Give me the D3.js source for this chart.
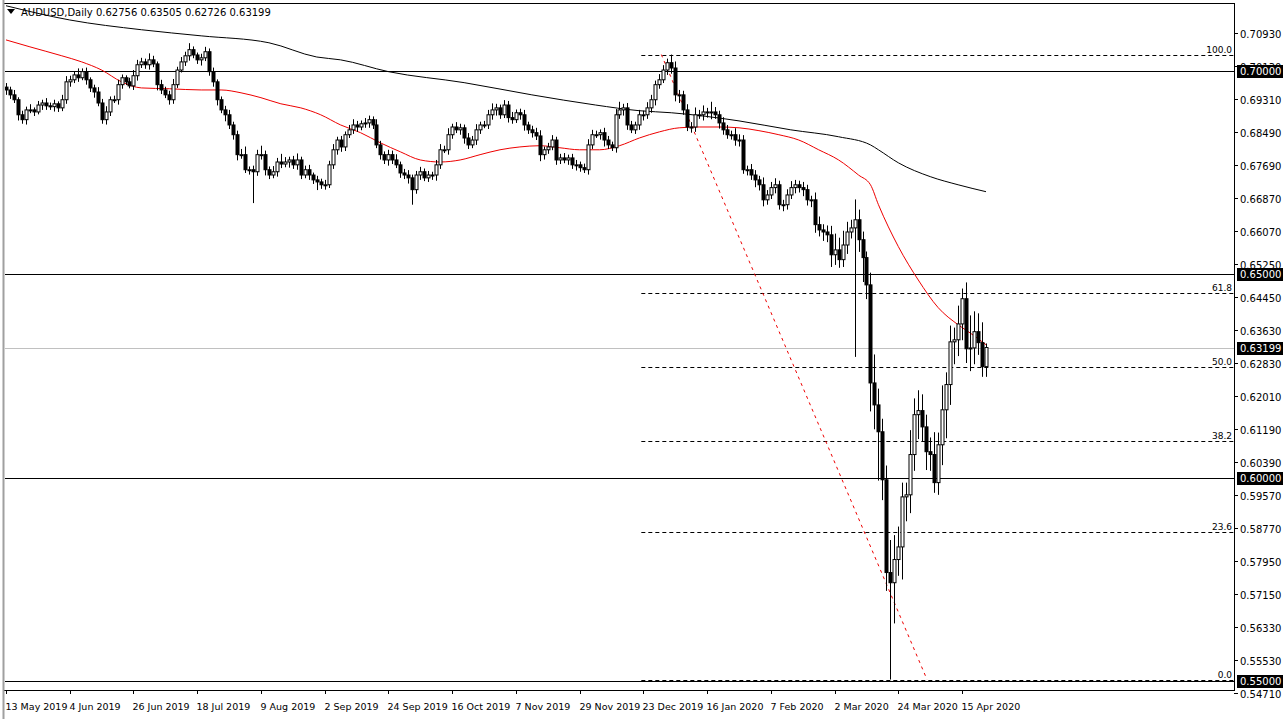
<!DOCTYPE html>
<html><head><meta charset="utf-8">
<script src="https://cdn.jsdelivr.net/npm/d3@7"></script>
<style>body{margin:0;background:#fff}svg{display:block}text{font-family:"DejaVu Sans",Arial,sans-serif;font-size:10px}</style>
</head><body><svg id="c" width="1286" height="719"></svg>
<script>
const firstOpen = 0.6960;
const closes = [
0.6953,0.6941,0.6929,0.6892,0.6880,0.6904,0.6904,0.6899,0.6916,0.6921,0.6914,0.6912,0.6919,0.6909,0.6929,0.6973,0.6978,0.6990,0.6983,0.6998,0.6978,0.6958,0.6948,0.6921,0.6880,0.6899,0.6929,0.6929,0.6966,0.6983,0.6973,0.6963,0.6988,0.7015,0.7022,0.7015,0.7027,0.7017,0.6966,0.6953,0.6941,0.6929,0.6966,0.7002,0.7022,0.7037,0.7052,0.7039,0.7027,0.7032,0.7047,0.6998,0.6973,0.6929,0.6904,0.6892,0.6867,0.6843,0.6794,0.6794,0.6757,0.6757,0.6752,0.6794,0.6794,0.6757,0.6744,0.6752,0.6776,0.6771,0.6776,0.6781,0.6769,0.6781,0.6744,0.6757,0.6744,0.6732,0.6727,0.6720,0.6720,0.6769,0.6806,0.6830,
0.6813,0.6843,0.6855,0.6867,0.6862,0.6870,0.6872,0.6880,0.6867,0.6818,0.6794,0.6781,0.6794,0.6781,0.6769,0.6749,0.6744,0.6737,0.6708,0.6744,0.6752,0.6737,0.6744,0.6744,0.6769,0.6806,0.6806,0.6843,0.6862,0.6855,0.6860,0.6835,0.6818,0.6830,0.6855,0.6867,0.6867,0.6892,0.6904,0.6909,0.6892,0.6916,0.6885,0.6880,0.6897,0.6892,0.6867,0.6855,0.6848,0.6840,0.6794,0.6806,0.6813,0.6830,0.6781,0.6786,0.6781,0.6786,0.6769,0.6769,0.6762,0.6757,0.6818,0.6843,0.6843,0.6848,0.6830,0.6818,0.6811,0.6892,0.6904,0.6909,0.6867,0.6855,0.6867,0.6892,0.6892,0.6909,0.6929,0.6966,0.6978,0.7002,0.7020,
0.7007,0.6941,0.6941,0.6904,0.6862,0.6862,0.6892,0.6892,0.6899,0.6897,0.6899,0.6892,0.6872,0.6855,0.6843,0.6843,0.6830,0.6830,0.6757,0.6757,0.6744,0.6732,0.6720,0.6683,0.6695,0.6713,0.6720,0.6671,0.6671,0.6695,0.6713,0.6720,0.6713,0.6708,0.6683,0.6683,0.6622,0.6609,0.6604,0.6597,0.6548,0.6560,0.6536,0.6572,0.6604,0.6614,0.6634,0.6585,0.6541,0.6474,
0.6233,0.6179,0.6113,0.5995,0.5767,0.5742,0.5799,0.5830,0.5953,0.5958,0.6057,0.6155,0.6165,0.6125,0.6064,0.6057,0.5988,0.6081,0.6167,0.6229,0.6334,0.6339,0.6378,0.6440,0.6317,0.6319,0.6359,0.6332,0.6273,0.6320];
const upWickPips = [
10,8,12,6,10,8,14,6,10,8,12,8,10,6,12,14,10,8,16,8,10,6,8,12,10,14,8,10,12,8,6,10,14,12,10,8,16,10,6,12,8,10,14,8,12,10,16,8,6,10,12,8,10,6,8,10,12,8,10,14,20,8,10,12,22,10,8,14,10,20,12,8,10,16,8,10,12,6,10,8,12,10,14,8,
10,8,12,14,10,8,12,10,8,14,10,8,12,10,14,8,10,12,8,10,12,8,10,8,12,14,10,16,8,12,10,8,12,10,14,8,10,12,16,10,8,12,10,14,8,10,12,8,10,12,14,8,10,12,8,10,12,8,10,12,8,10,14,12,10,8,12,10,8,14,20,10,12,10,8,12,10,14,12,10,14,12,10,
20,16,12,10,14,12,18,12,16,10,25,12,10,14,12,10,16,14,12,10,14,12,10,18,12,14,16,10,12,14,16,12,10,14,12,10,18,20,14,16,22,40,30,35,25,20,50,25,20,15,
30,70,40,32,35,80,60,50,35,30,60,40,50,40,30,35,55,30,60,30,40,30,45,25,40,80,50,45,50,10];
const downWickPips = [
12,10,8,14,10,12,8,10,6,12,10,8,12,10,8,10,12,8,10,6,12,10,14,8,10,12,10,8,12,10,8,6,10,12,8,10,12,8,14,10,8,12,10,8,6,10,12,8,10,14,8,10,12,14,8,16,10,12,14,10,8,12,77,10,12,14,10,8,12,10,8,14,10,12,10,8,12,10,20,10,12,8,10,12,
12,10,8,10,12,8,10,12,10,8,12,10,14,10,8,12,10,14,37,10,12,8,10,12,14,10,8,12,10,8,12,14,10,8,12,10,8,10,12,14,10,8,12,10,8,12,14,10,12,10,16,12,10,8,12,10,8,12,10,14,10,8,12,10,8,12,16,10,8,12,10,14,12,8,10,12,14,10,12,14,10,8,12,
14,16,20,12,10,14,12,10,14,12,16,10,14,12,10,12,14,16,10,14,12,18,14,16,12,10,14,12,16,12,10,14,12,16,14,18,20,16,22,18,30,25,20,18,22,16,317,30,60,35,
70,60,120,50,45,238,100,40,80,60,45,40,60,35,45,40,25,30,50,70,50,55,40,40,35,55,40,30,25,25];
const dateLabels = ["13 May 2019","4 Jun 2019","26 Jun 2019","18 Jul 2019","9 Aug 2019","2 Sep 2019","24 Sep 2019","16 Oct 2019","7 Nov 2019","29 Nov 2019","23 Dec 2019","16 Jan 2020","7 Feb 2020","2 Mar 2020","24 Mar 2020","15 Apr 2020"];
const dateLabelIdx = [0,16,32,48,64,80,96,112,128,144,160,176,192,208,224,240];
const priceTicks = [0.70930,0.70130,0.69310,0.68490,0.67690,0.66870,0.66070,0.65250,0.64450,0.63630,0.62830,0.62010,0.61190,0.60390,0.59570,0.58770,0.57950,0.57150,0.56330,0.55530,0.54710];
const maRedIdx = [0,6,14,19,24,29,34,41,49,54,59,64,69,74,79,84,89,94,99,104,109,114,119,124,129,134,139,144,149,154,159,164,169,174,179,184,189,194,199,204,209,214,217,219,224,229,234,239,242,246];
const maRedVal = [0.7076,0.7059,0.7037,0.7022,0.7002,0.6973,0.6958,0.6956,0.6953,0.6953,0.6946,0.6934,0.6919,0.6909,0.6892,0.6867,0.6848,0.6823,0.6801,0.6781,0.6776,0.6781,0.6794,0.6806,0.6813,0.6816,0.6811,0.6806,0.6806,0.6816,0.6835,0.6850,0.6860,0.6862,0.6862,0.6860,0.6853,0.6843,0.6830,0.6806,0.6781,0.6744,0.6720,0.6671,0.6568,0.6486,0.6418,0.6376,0.6356,0.6327];
const maBlackIdx = [0,16,34,49,66,78,84,96,115,132,148,159,167,184,197,209,217,219,224,232,239,246];
const maBlackVal = [0.7160,0.7125,0.7101,0.7086,0.7069,0.7034,0.7027,0.6998,0.6971,0.6941,0.6916,0.6902,0.6897,0.6877,0.6855,0.6838,0.6818,0.6806,0.6774,0.6740,0.6720,0.6703];
const hLevels = [0.70000,0.65000,0.60000,0.55000];
const lastPrice = 0.63199;
const fibLevels = [100.0,61.8,50.0,38.2,23.6,0.0];
const fibHigh = 0.7040, fibLow = 0.5504, fibHighIdx = 164.5, fibLowIdx = 231.2;

const svg = d3.select("#c");
const L=5, R=1234, T=4, B=690;
const x = d3.scaleLinear().domain([0,246]).range([6,986]);
const y = d3.scaleLinear().domain([0.54710,0.70930]).range([693,33]);
const pip = 0.0001;
const candles = closes.map((c,i)=>{const o=i?closes[i-1]:firstOpen;return {i,o,c,h:Math.max(o,c)+upWickPips[i]*pip,l:Math.min(o,c)-downWickPips[i]*pip};});

svg.append("rect").attr("x",0).attr("y",0).attr("width",1286).attr("height",719).attr("fill","#fff");
svg.append("defs").append("clipPath").attr("id","cl").append("rect").attr("x",L).attr("y",T).attr("width",R-L).attr("height",B-T);
const g = svg.append("g").attr("clip-path","url(#cl)");

hLevels.forEach(v=>g.append("line").attr("x1",L).attr("x2",R).attr("y1",Math.round(y(v))+.5).attr("y2",Math.round(y(v))+.5).attr("stroke","#000"));
g.append("line").attr("x1",L).attr("x2",R).attr("y1",Math.round(y(lastPrice))+.5).attr("y2",Math.round(y(lastPrice))+.5).attr("stroke","#c0c0c0");
fibLevels.forEach(f=>{const v=fibLow+(fibHigh-fibLow)*f/100;const yy=Math.round(y(v))+.5;
 g.append("line").attr("x1",x(fibHighIdx)-20).attr("x2",R).attr("y1",yy).attr("y2",yy).attr("stroke","#000").attr("stroke-dasharray","4,3");
 svg.append("text").attr("x",R-2).attr("y",yy-3).attr("text-anchor","end").style("font-size","9px").text(f.toFixed(1));});
g.append("line").attr("x1",x(fibHighIdx)).attr("y1",y(fibHigh)).attr("x2",x(fibLowIdx)).attr("y2",y(fibLow)).attr("stroke","#e00").attr("stroke-dasharray","3,4");

const ln = d3.line().curve(d3.curveMonotoneX).x(d=>x(d[0])).y(d=>y(d[1]));
g.append("path").attr("d",ln(maBlackIdx.map((d,i)=>[d,maBlackVal[i]]))).attr("fill","none").attr("stroke","#000").attr("stroke-width",1);
g.append("path").attr("d",ln(maRedIdx.map((d,i)=>[d,maRedVal[i]]))).attr("fill","none").attr("stroke","#e00").attr("stroke-width",1);

const cg = g.selectAll("g.k").data(candles).join("g");
cg.append("line").attr("x1",d=>Math.round(x(d.i))+.5).attr("x2",d=>Math.round(x(d.i))+.5).attr("y1",d=>y(d.h)).attr("y2",d=>y(d.l)).attr("stroke","#000");
cg.append("rect").attr("x",d=>Math.round(x(d.i))-1).attr("width",3)
 .attr("y",d=>y(Math.max(d.o,d.c))).attr("height",d=>Math.max(1,Math.abs(y(d.o)-y(d.c))))
 .attr("fill",d=>d.c>=d.o?"#fff":"#000").attr("stroke","#000").attr("stroke-width",1);

svg.append("rect").attr("x",3.5).attr("y",3.5).attr("width",R-3).attr("height",B-3).attr("fill","none").attr("stroke","#000");
svg.append("line").attr("x1",3.5).attr("x2",3.5).attr("y1",0).attr("y2",719).attr("stroke","#a0a0a0").attr("stroke-width",2);

priceTicks.forEach(v=>{const yy=Math.round(y(v))+.5;
 svg.append("line").attr("x1",R).attr("x2",R+4).attr("y1",yy).attr("y2",yy).attr("stroke","#000");
 svg.append("text").attr("x",R+6).attr("y",yy+4).text(v.toFixed(5));});
[...hLevels,lastPrice].forEach(v=>{const yy=Math.round(y(v));
 svg.append("rect").attr("x",R+3).attr("y",yy-6).attr("width",46).attr("height",13).attr("fill","#000");
 svg.append("text").attr("x",R+6).attr("y",yy+4).attr("fill","#fff").text(v.toFixed(5));});

dateLabelIdx.forEach((d,i)=>{const xx=Math.round(x(d))+.5;
 svg.append("line").attr("x1",xx).attr("x2",xx).attr("y1",B).attr("y2",B+4).attr("stroke","#000");
 svg.append("text").attr("x",xx-1).attr("y",710).style("font-size","9.5px").text(dateLabels[i]);});

svg.append("path").attr("d","M7,9 L15,9 L11,14 Z").attr("fill","#000");
svg.append("text").attr("x",21).attr("y",16).text("AUDUSD,Daily  0.62756 0.63505 0.62726 0.63199");
</script></body></html>
